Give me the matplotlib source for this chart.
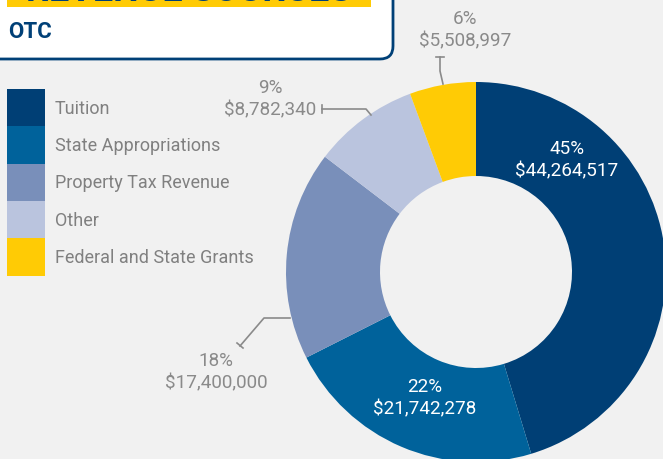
import matplotlib.pyplot as plt
from matplotlib.patches import FancyBboxPatch, Rectangle

W, H = 663, 460

labels = ["Tuition", "State Appropriations", "Property Tax Revenue", "Other",
          "Federal and State Grants"]
values = [44264517, 21742278, 17400000, 8782340, 5508997]
colors = ["#003f75", "#00629b", "#798fba", "#bac4de", "#ffcb05"]

NAVY = "#004077"
GRAY = "#8a8a8a"
BG = "#f1f1f1"
FONT = ["Roboto", "DejaVu Sans"]


def py(y):
    # pixel row (from top) -> data y (from bottom)
    return H - y


fig = plt.figure(figsize=(W / 100, H / 100), dpi=100, facecolor=BG)
ax = fig.add_axes([0, 0, 1, 1])
ax.set_facecolor(BG)

# donut
wedges, _ = ax.pie(values, colors=colors, startangle=90, counterclock=False,
                   radius=190, center=(476, py(273)),
                   wedgeprops=dict(width=94, linewidth=0))

ax.set_xlim(0, W)
ax.set_ylim(0, H)
ax.set_aspect("equal")
ax.axis("off")

total = sum(values)
pct = ["%d%%" % round(v * 100 / total) for v in values]
money = ["${:,}".format(v) for v in values]

# label positions (pixel coords, centre of the two-line block) and colour
label_pos = [(567, 160, "white"), (425, 398, "white"), (216, 372, GRAY),
             (270, 99, GRAY), (465, 30, GRAY)]
for i, (x, y, c) in enumerate(label_pos):
    ax.text(x, py(y - 11), pct[i], ha="center", va="center", color=c,
            fontsize=13.6, family=FONT)
    ax.text(x, py(y + 11), money[i], ha="center", va="center", color=c,
            fontsize=13.6, family=FONT)

# leader lines
lw = 1.2
ax.plot([322, 366, 371], [py(110), py(110), py(116)], color=GRAY, lw=lw)
ax.plot([322, 322], [py(106), py(114)], color=GRAY, lw=lw)
ax.plot([440, 440, 443], [py(58), py(72), py(85)], color=GRAY, lw=lw)
ax.plot([436, 444], [py(58), py(58)], color=GRAY, lw=lw)
ax.plot([240, 264, 290], [py(347), py(319), py(319)], color=GRAY, lw=lw)
ax.plot([237, 243], [py(344), py(349)], color=GRAY, lw=lw)

# legend
top = 90
step = 37.3
for i, lab in enumerate(labels):
    y0 = top + i * step
    ax.add_patch(Rectangle((7, py(y0 + step)), 38, step, facecolor=colors[i],
                           edgecolor="none"))
    ax.text(55, py(y0 + step / 2), lab, ha="left", va="center", color="#808080",
            fontsize=13, family=FONT)

# title box
ax.add_patch(FancyBboxPatch((-30, py(60)), 423, 100,
                            boxstyle="round,pad=0,rounding_size=13",
                            facecolor="white", edgecolor=NAVY, lw=2,
                            clip_on=False))
ax.add_patch(Rectangle((7, py(8)), 364, 30, facecolor="#ffcb05",
                       edgecolor="none"))
ax.text(189, py(1), "REVENUE SOURCES", ha="center", va="baseline", color=NAVY,
        fontsize=26, fontweight="bold", family=FONT)
ax.text(8, py(32), "OTC", ha="left", va="center", color=NAVY, fontsize=16,
        fontweight="bold", family=FONT)

fig.savefig("out.png", dpi=100, facecolor=BG)
